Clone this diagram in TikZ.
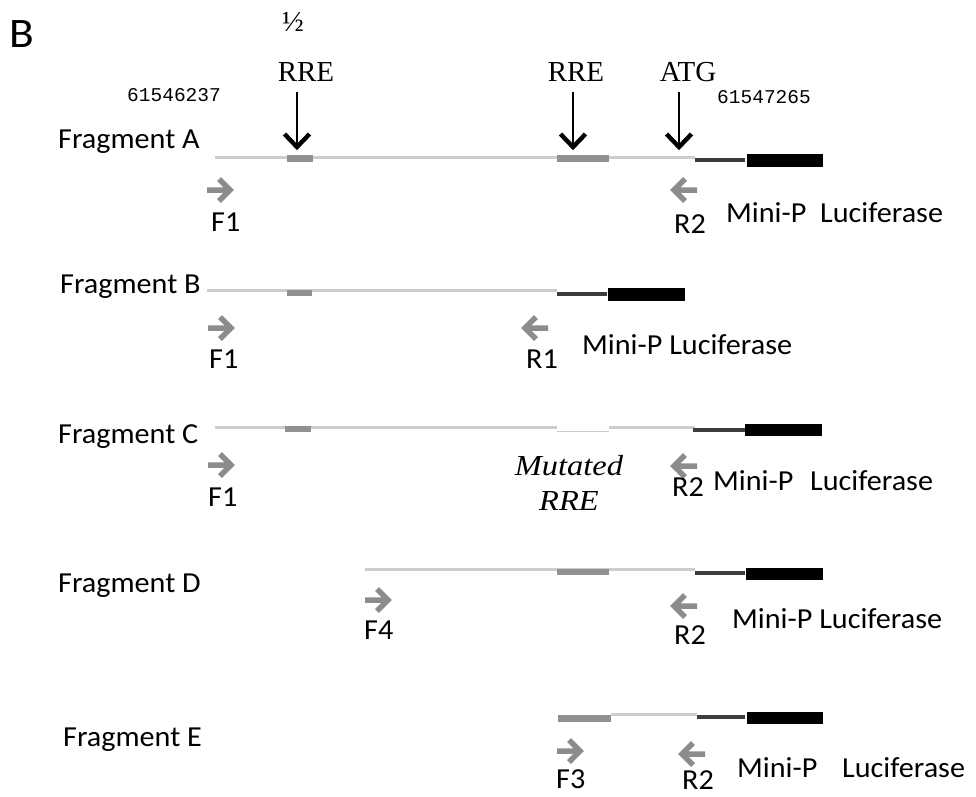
\documentclass[tikz,border=0pt]{standalone}
\usepackage{fontspec}
\usepackage{graphicx}
\setmainfont{Carlito}
\newfontfamily\serifff{Liberation Serif}
\newfontfamily\monoff{Liberation Mono}
\definecolor{thinline}{RGB}{205,205,205}
\definecolor{rrebox}{RGB}{145,145,145}
\definecolor{minip}{RGB}{60,60,60}
\definecolor{primergray}{RGB}{140,140,140}
\newcommand\sx[1]{\scalebox{1.04}[1]{#1}}
\tikzset{
  lbl/.style={font=\fontsize{29}{29}\selectfont, inner sep=0pt, anchor=base west},
  serlbl/.style={font=\serifff\fontsize{29}{29}\selectfont, inner sep=0pt, anchor=base},
  monolbl/.style={font=\monoff\fontsize{19.5}{19.5}\selectfont, inner sep=0pt, anchor=base west},
  dna/.style={line width=3pt, color=thinline},
  rreseg/.style={fill=rrebox, draw=none},
  miniline/.style={line width=4pt, color=minip},
  lucbox/.style={fill=black, draw=none},
  primer/.style={line width=5.5pt, color=primergray, line join=miter},
  downarr/.style={line width=2.3pt, black},
  downhead/.style={line width=4.4pt, black, line join=miter},
  fwdprimer/.pic={\draw[primer] (-13,0) -- (10,0) (-1,-11) -- (10,0) -- (-1,11);},
  revprimer/.pic={\draw[primer] (13,0) -- (-10,0) (1,-11) -- (-10,0) -- (1,11);}
}
\begin{document}
\begin{tikzpicture}[x=1pt,y=-1pt]
\useasboundingbox (0,0) rectangle (976,796);
\fill[white] (0,0) rectangle (976,796);

% panel letter
\node[font=\fontsize{42}{42}\selectfont, inner sep=0pt, anchor=base west] (panelB) at (9,47) {\scalebox{1.08}[1]{B}};

% top annotations
\node[font=\serifff\fontsize{29}{29}\selectfont, inner sep=0pt, anchor=base] (half) at (293,31) {½};
\node[serlbl] (rre1) at (306,81) {RRE};
\node[serlbl] (rre2) at (576,81) {RRE};
\node[serlbl] (atg) at (688,81) {ATG};
\node[monolbl] (pos1) at (127,101) {61546237};
\node[monolbl] (pos2) at (717,103) {61547265};

\coordinate (a1top) at (297,92);  \coordinate (a1tip) at (297,147);
\coordinate (a2top) at (573,92);  \coordinate (a2tip) at (573,147);
\coordinate (a3top) at (679,92);  \coordinate (a3tip) at (679,147);
\foreach \t/\h in {a1top/a1tip,a2top/a2tip,a3top/a3tip}{
  \draw[downarr] (\t) -- ([yshift=-2pt]\h);
  \draw[downhead] ([xshift=-12.5pt,yshift=13pt]\h) -- (\h) -- ([xshift=12.5pt,yshift=13pt]\h);
}

% ---------------- Fragment A ----------------
\node[lbl] (fragA) at (58,148) {\sx{Fragment A}};
\draw[dna] (215,157.5) -- (695,157.5);
\fill[rreseg] (287,155) rectangle (313,162);
\fill[rreseg] (557,155) rectangle (609,162);
\draw[miniline] (695,159.5) -- (745,159.5);
\fill[lucbox] (747,154) rectangle (823,167);
\pic at (220,190) {fwdprimer};
\pic at (684,190) {revprimer};
\node[lbl] (A-F1) at (211,231) {\sx{F1}};
\node[lbl] (A-R2) at (674,233) {\sx{R2}};
\node[lbl] (A-mini) at (726,222) {\sx{Mini-P}};
\node[lbl] (A-luc) at (820,222) {\sx{Luciferase}};

% ---------------- Fragment B ----------------
\node[lbl] (fragB) at (60,293) {\sx{Fragment B}};
\draw[dna] (207,290.5) -- (557,290.5);
\fill[rreseg] (287,290) rectangle (312,296);
\draw[miniline] (557,294) -- (607,294);
\fill[lucbox] (608,288) rectangle (685,301);
\pic at (221,328) {fwdprimer};
\pic at (535,328) {revprimer};
\node[lbl] (B-F1) at (209,368) {\sx{F1}};
\node[lbl] (B-R1) at (526,368) {\sx{R1}};
\node[lbl] (B-mini) at (582,354) {\sx{Mini-P Luciferase}};

% ---------------- Fragment C ----------------
\node[lbl] (fragC) at (58,443) {\sx{Fragment C}};
\draw[dna] (215,427) -- (695,427);
\fill[rreseg] (285,426) rectangle (311,432);
\fill[white] (557,425.5) rectangle (609,431);
\draw[line width=0.6pt, color=thinline] (557,431) -- (609,431);
\draw[miniline] (693,430) -- (745,430);
\fill[lucbox] (745,424) rectangle (822,436);
\pic at (221,465) {fwdprimer};
\pic at (684,466) {revprimer};
\node[lbl] (C-F1) at (208,506) {\sx{F1}};
\node[font=\serifff\itshape\fontsize{29}{29}\selectfont, inner sep=0pt, anchor=base] (C-mut) at (569,475) {\scalebox{1.12}[1]{Mutated}};
\node[font=\serifff\itshape\fontsize{29}{29}\selectfont, inner sep=0pt, anchor=base] (C-rre) at (569,510) {\scalebox{1.12}[1]{RRE}};
\node[lbl] (C-R2) at (672,496) {\sx{R2}};
\node[lbl] (C-mini) at (713,490) {\sx{Mini-P}};
\node[lbl] (C-luc) at (810,490) {\sx{Luciferase}};

% ---------------- Fragment D ----------------
\node[lbl] (fragD) at (58,592) {\sx{Fragment D}};
\draw[dna] (365,569.5) -- (695,569.5);
\fill[rreseg] (557,569) rectangle (609,575);
\draw[miniline] (695,573) -- (745,573);
\fill[lucbox] (746,568) rectangle (823,580);
\pic at (378,600) {fwdprimer};
\pic at (684,606) {revprimer};
\node[lbl] (D-F4) at (364,639) {\sx{F4}};
\node[lbl] (D-R2) at (674,644) {\sx{R2}};
\node[lbl] (D-mini) at (732,628) {\sx{Mini-P Luciferase}};

% ---------------- Fragment E ----------------
\node[lbl] (fragE) at (63,746) {\sx{Fragment E}};
\draw[dna] (611,714) -- (697,714);
\fill[rreseg] (558,715) rectangle (611,722);
\draw[miniline] (697,716.5) -- (745,716.5);
\fill[lucbox] (747,712) rectangle (823,724);
\pic at (570,751) {fwdprimer};
\pic at (692,754) {revprimer};
\node[lbl] (E-F3) at (556,788) {\sx{F3}};
\node[lbl] (E-R2) at (682,789) {\sx{R2}};
\node[lbl] (E-mini) at (737,777) {\sx{Mini-P}};
\node[lbl] (E-luc) at (842,777) {\sx{Luciferase}};
\end{tikzpicture}
\end{document}
